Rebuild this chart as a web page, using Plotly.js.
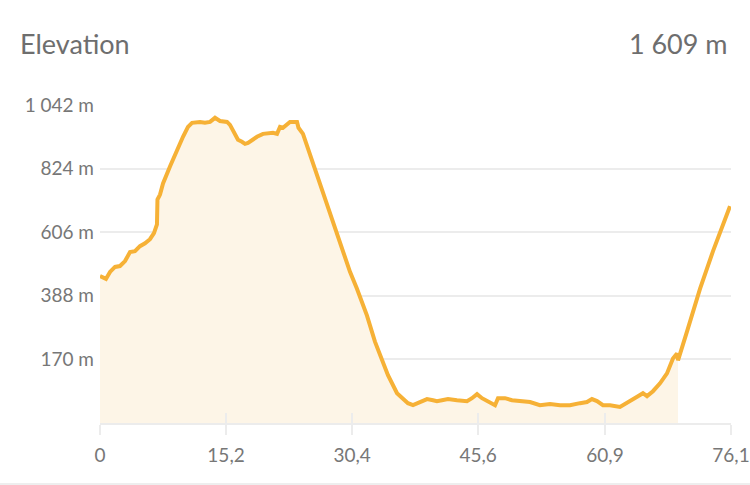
<!DOCTYPE html>
<html>
<head>
<meta charset="utf-8">
<script src="https://cdn.plot.ly/plotly-3.0.1.min.js"></script>
<style>
  html, body { margin: 0; padding: 0; background: #ffffff; }
  #chart { width: 750px; height: 485px; }
</style>
</head>
<body>
<div id="chart"></div>
<script>
// Distance along the route (km)
const distanceKm = [
  0, 0.36, 0.72, 1.21, 1.81, 2.41, 3.02, 3.62, 4.22, 4.82, 5.43, 6.03, 6.51, 6.87, 6.93,
  7.24, 7.60, 8.44, 9.29, 10.01, 10.61, 11.10, 12.06, 12.66, 13.27, 13.87, 14.47, 15.32,
  15.68, 16.04, 16.64, 17.12, 17.49, 17.85, 18.45, 18.93, 19.66, 20.86, 21.35, 21.71,
  22.07, 22.55, 22.91, 23.76, 23.94, 24.48, 24.72, 25.33, 25.69, 26.89, 28.10, 29.31,
  29.91, 30.15, 30.99, 32.20, 33.16, 33.77, 34.73, 35.82, 36.42, 37.14, 37.75, 38.35,
  39.44, 40.16, 40.64, 41.24, 41.97, 43.05, 44.26, 44.86, 45.47, 46.07, 46.79, 47.64,
  48.00, 48.84, 49.69, 50.65, 51.86, 53.06, 54.27, 55.48, 56.68, 57.89, 58.73, 59.33,
  59.94, 60.66, 61.51, 62.71, 63.56, 64.28, 64.88, 65.48, 65.97, 66.69, 67.54, 68.38,
  68.74, 69.10, 69.59, 69.71, 70.79, 72.36, 73.93, 75.13, 75.98
];
// Elevation (m)
const elevationM = [
  456, 449, 446, 470, 487, 490, 507, 538, 541, 558, 568, 582, 603, 633, 718,
  735, 773, 831, 889, 933, 967, 981, 984, 981, 984, 998, 987, 984,
  974, 957, 923, 916, 909, 912, 926, 933, 943, 947, 943, 967,
  964, 974, 984, 984, 964, 943, 923, 882, 848, 746, 650, 548,
  494, 470, 412, 320, 231, 184, 116, 54, 37, 20, 13, 20,
  34, 30, 27, 30, 34, 30, 27, 37, 51, 37, 27, 13,
  37, 37, 30, 27, 24, 13, 17, 13, 13, 20, 24, 34,
  27, 13, 13, 7, 20, 34, 44, 54, 44, 61, 88, 122,
  150, 173, 190, 167, 265, 412, 541, 626, 695
];
// Distance where the shaded area stops
const fillEndKm = 69.71;

const xTickVals = [0, 15.2, 30.4, 45.6, 60.9, 76.1];
const xTickText = ["0", "15,2", "30,4", "45,6", "60,9", "76,1"];
const yTickVals = [170, 388, 606, 824, 1042];
const yTickText = ["170 m", "388 m", "606 m", "824 m", "1\u202F042 m"];
const yMin = -48, yMax = 1042;
const titleText = "Elevation";
const totalText = "1\u202F609 m";

const fillIdx = distanceKm.indexOf(fillEndKm);
const fillX = distanceKm.slice(0, fillIdx + 1);
const fillY = elevationM.slice(0, fillIdx + 1);

const lineColor = "#f6b136";
const fillColor = "#fdf5e7";
const gridColor = "#ececec";
const textColor = "#777777";
const fontFam = "Lato, 'Open Sans', sans-serif";

const traces = [
  { x: fillX, y: fillX.map(() => yMin), mode: "lines", line: { width: 0 },
    hoverinfo: "skip", showlegend: false },
  { x: fillX, y: fillY, mode: "lines", line: { width: 0 }, fill: "tonexty",
    fillcolor: fillColor, hoverinfo: "skip", showlegend: false },
  { x: distanceKm, y: elevationM, mode: "lines",
    line: { color: lineColor, width: 4, shape: "linear" }, showlegend: false },
  { x: [0, 76.1], y: [null, null], xaxis: "x2", mode: "lines", showlegend: false, hoverinfo: "skip" }
];

const plotL = 100, plotR = 731, plotT = 105, plotB = 423;
const pw = plotR - plotL, ph = plotB - plotT;
const px = v => (v - plotL) / pw;
const py = v => (plotB - v) / ph;

const layout = {
  width: 750, height: 485,
  margin: { l: plotL, r: 750 - plotR, t: plotT, b: 485 - plotB, pad: 0 },
  paper_bgcolor: "#ffffff", plot_bgcolor: "#ffffff",
  font: { family: fontFam, color: textColor, size: 19 },
  xaxis: {
    range: [0, 76.1], tickvals: xTickVals, ticktext: xTickText,
    showgrid: false, zeroline: false, showline: true, linecolor: gridColor, linewidth: 2,
    ticks: "outside", ticklen: 10, tickwidth: 2, tickcolor: gridColor,
    tickfont: { family: fontFam, size: 19, color: textColor },
    ticklabelstandoff: 4, fixedrange: true
  },
  xaxis2: {
    overlaying: "x", range: [0, 76.1], tickvals: xTickVals, showticklabels: false,
    showgrid: false, zeroline: false, showline: false,
    ticks: "inside", ticklen: 10, tickwidth: 2, tickcolor: gridColor, anchor: "y"
  },
  yaxis: {
    range: [yMin, yMax], tickvals: yTickVals, ticktext: yTickText,
    showgrid: true, gridcolor: gridColor, gridwidth: 2, zeroline: false, showline: false,
    ticks: "", tickfont: { family: fontFam, size: 19, color: textColor },
    ticklabelstandoff: 5, fixedrange: true
  },
  annotations: [
    { text: titleText, xref: "paper", yref: "paper", x: px(18), y: py(44),
      xanchor: "left", yanchor: "middle", showarrow: false,
      font: { family: fontFam, size: 27, color: "#6e6e6e" } },
    { text: totalText, xref: "paper", yref: "paper", x: px(730), y: py(44),
      xanchor: "right", yanchor: "middle", showarrow: false,
      font: { family: fontFam, size: 27, color: "#6e6e6e" } }
  ],
  shapes: [
    { type: "line", xref: "paper", yref: "paper", x0: px(0), x1: px(750), y0: py(484), y1: py(484),
      line: { color: "#eeeeee", width: 2 } }
  ]
};

Plotly.newPlot("chart", traces, layout, { displayModeBar: false, staticPlot: true });
</script>
</body>
</html>
